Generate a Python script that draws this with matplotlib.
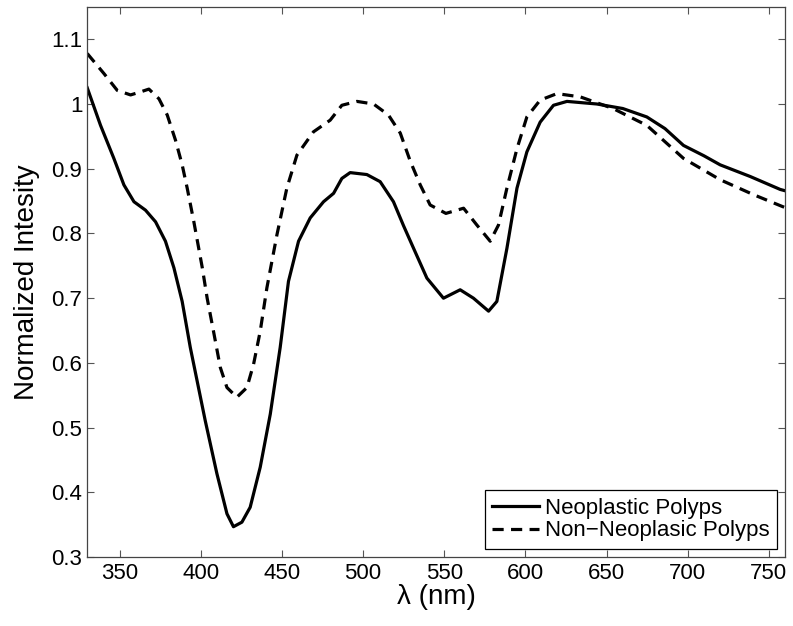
import numpy as np
import matplotlib
matplotlib.use('Agg')
import matplotlib.pyplot as plt

plt.rcParams['font.family'] = ['Liberation Sans', 'DejaVu Sans']

# wavelength (nm) and normalized intensity
wl_neo = [330, 338.2, 346.4, 352.6, 358.8, 365.9, 372.1, 378.2, 383.4, 388.5,
          393.5, 402.7, 409.9, 416.1, 420.1, 425.3, 430.4, 436.6, 442.8,
          448.9, 454, 460.2, 467.4, 475.6, 481.8, 486.9, 492, 502.3, 510.5,
          518.7, 524.9, 531.1, 539.3, 549.5, 559.8, 568, 577.3, 582.4, 588.6,
          594.8, 600.9, 609.1, 617.3, 625.6, 644, 660, 674.8, 686, 697.4,
          710, 720, 738.5, 757, 760]
val_neo = [1.025, 0.967, 0.916, 0.875, 0.849, 0.836, 0.818, 0.788, 0.747,
           0.695, 0.624, 0.511, 0.429, 0.367, 0.347, 0.354, 0.377, 0.439,
           0.521, 0.624, 0.726, 0.788, 0.824, 0.849, 0.862, 0.885, 0.894,
           0.891, 0.880, 0.849, 0.812, 0.777, 0.731, 0.700, 0.713, 0.700,
           0.680, 0.695, 0.777, 0.870, 0.926, 0.972, 0.998, 1.004, 1.000,
           0.993, 0.980, 0.962, 0.936, 0.920, 0.906, 0.888, 0.868, 0.866]

wl_non = [330, 340.3, 348.5, 356.7, 362, 368, 374.2, 379.3, 384.4, 388.5,
          391.6, 395.7, 400.9, 403.9, 407.8, 412, 416.1, 422.2, 428.4, 432.5,
          436.6, 440.7, 446.9, 453, 459.2, 469.4, 479.7, 486.9, 496.2, 506.4,
          515.6, 522.9, 529, 535.2, 541.3, 551, 561.9, 570.1, 578.3, 583.4,
          588.6, 594.8, 600.9, 609.1, 619.4, 633.8, 654, 674.8, 697.4, 720,
          740.5, 757, 760]
val_non = [1.078, 1.047, 1.021, 1.014, 1.018, 1.023, 1.008, 0.983, 0.944,
           0.906, 0.870, 0.818, 0.747, 0.700, 0.649, 0.593, 0.562, 0.547,
           0.562, 0.598, 0.649, 0.716, 0.798, 0.870, 0.921, 0.957, 0.975,
           0.998, 1.004, 1.000, 0.983, 0.955, 0.912, 0.875, 0.844, 0.831,
           0.839, 0.813, 0.788, 0.813, 0.870, 0.931, 0.980, 1.006, 1.016,
           1.011, 0.993, 0.967, 0.916, 0.883, 0.860, 0.843, 0.840]

fig = plt.figure(figsize=(7.93, 6.26), dpi=100)
ax = fig.add_axes([0.110, 0.110, 0.880, 0.879])

ax.plot(wl_neo, val_neo, color='black', lw=2.3, label='Neoplastic Polyps')
ax.plot(wl_non, val_non, color='black', lw=2.3, dashes=(3.5, 2.3),
        label='Non\u2212Neoplasic Polyps')

ax.set_xlim(330, 760)
ax.set_ylim(0.3, 1.15)
ax.set_xticks(np.arange(350, 751, 50))
ax.set_yticks([0.3, 0.4, 0.5, 0.6, 0.7, 0.8, 0.9, 1.0, 1.1])
ax.set_yticklabels(['0.3', '0.4', '0.5', '0.6', '0.7', '0.8', '0.9', '1', '1.1'])
ax.tick_params(direction='in', top=True, right=True, length=5, width=0.8,
               color='#555555', labelsize=16)
ax.tick_params(axis='x', pad=4.3)
ax.tick_params(axis='y', pad=3.5)
for s in ax.spines.values():
    s.set_linewidth(0.9)
    s.set_color('#444444')

ax.set_xlabel('\u03bb (nm)', fontsize=20, labelpad=0)
ax.set_ylabel('Normalized Intesity', fontsize=20, labelpad=8)

leg = ax.legend(loc='lower right', fontsize=16, fancybox=False,
                framealpha=1, edgecolor='black', borderpad=0.35,
                handlelength=2.1, handletextpad=0.25, labelspacing=0.05,
                borderaxespad=0.36)
leg.get_frame().set_linewidth(0.9)

fig.savefig('out.png', dpi=100)
